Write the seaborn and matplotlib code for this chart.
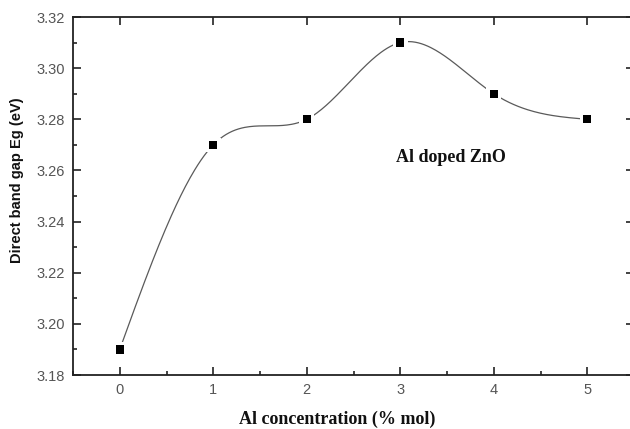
import numpy as np
import matplotlib
matplotlib.use("Agg")
import matplotlib.pyplot as plt
import seaborn as sns
from matplotlib import font_manager
from matplotlib.ticker import MultipleLocator, FormatStrFormatter

# data
al_conc = [0, 1, 2, 3, 4, 5]
band_gap = [3.19, 3.27, 3.28, 3.31, 3.29, 3.28]


def natural_spline(x, y, n=300):
    # natural cubic spline through the points (Origin-style smooth connector)
    x = np.asarray(x, float)
    y = np.asarray(y, float)
    m = len(x)
    h = np.diff(x)
    A = np.zeros((m, m))
    r = np.zeros(m)
    A[0, 0] = A[-1, -1] = 1
    for i in range(1, m - 1):
        A[i, i - 1] = h[i - 1]
        A[i, i] = 2 * (h[i - 1] + h[i])
        A[i, i + 1] = h[i]
        r[i] = 3 * ((y[i + 1] - y[i]) / h[i] - (y[i] - y[i - 1]) / h[i - 1])
    c = np.linalg.solve(A, r)
    xs = np.linspace(x[0], x[-1], n)
    ys = np.empty_like(xs)
    for k, xv in enumerate(xs):
        i = min(np.searchsorted(x, xv, side="right") - 1, m - 2)
        b = (y[i + 1] - y[i]) / h[i] - h[i] * (c[i + 1] + 2 * c[i]) / 3
        d = (c[i + 1] - c[i]) / (3 * h[i])
        t = xv - x[i]
        ys[k] = y[i] + b * t + c[i] * t ** 2 + d * t ** 3
    return xs, ys


sns.set_style("ticks")
plt.rcParams['font.family'] = ['Liberation Sans', 'DejaVu Sans']

# pick a narrow sans for the y label if one is installed
names = {f.name for f in font_manager.fontManager.ttflist}
narrow = 'Liberation Sans'
for cand in ['Liberation Sans Narrow', 'DejaVu Sans Condensed']:
    if cand in names:
        narrow = cand
        break
print("y label font:", narrow)

fig = plt.figure(figsize=(6.3, 4.29), dpi=100)
ax = fig.add_axes([73 / 630, 1 - 375 / 429, 561 / 630, 358 / 429])

xs, ys = natural_spline(al_conc, band_gap)
sns.lineplot(x=xs, y=ys, ax=ax, color="#5a5a5a", linewidth=0.9, zorder=2)
# white halo gives the small gap around each marker
sns.scatterplot(x=al_conc, y=band_gap, ax=ax, marker="s", s=110, color="white",
                edgecolor="none", zorder=3)
sns.scatterplot(x=al_conc, y=band_gap, ax=ax, marker="s", s=36, color="black",
                edgecolor="none", zorder=4)

ax.set_xlim(-0.5, 5.5)
ax.set_ylim(3.18, 3.32)
ax.xaxis.set_major_locator(MultipleLocator(1))
ax.xaxis.set_minor_locator(MultipleLocator(0.5))
ax.yaxis.set_major_locator(MultipleLocator(0.02))
ax.yaxis.set_minor_locator(MultipleLocator(0.01))
ax.yaxis.set_major_formatter(FormatStrFormatter("%.2f"))

for side in ["top", "right", "left", "bottom"]:
    ax.spines[side].set_visible(True)
    ax.spines[side].set_color("#222222")
    ax.spines[side].set_linewidth(1.3)

ax.tick_params(which="major", direction="in", length=6, width=1.2, color="#222222",
               top=True, right=True, labelsize=10.5, labelcolor="#555555", pad=6)
# minor ticks only on left and bottom
ax.tick_params(which="minor", direction="in", length=3, width=1.2, color="#222222",
               left=True, bottom=True, top=False, right=False)

if narrow == 'Liberation Sans':
    ylab_size = 10.5
else:
    ylab_size = 12.5
ax.set_ylabel("Direct band gap Eg (eV)", fontsize=ylab_size, fontweight="bold",
              family=[narrow], color="#111111")
ax.yaxis.set_label_coords(-0.087, (375 - 180) / 358)
ax.set_xlabel("Al concentration (% mol)", fontsize=13, fontweight="bold",
              family=['Liberation Serif'], color="#111111")
ax.xaxis.set_label_coords((337 - 73) / 561, -0.1)

ax.text(2.95, 3.265, "Al doped ZnO", fontsize=13, fontweight="bold",
        family=['Liberation Serif'], color="#111111", ha="left", va="center")

fig.savefig("out.png", dpi=100)
